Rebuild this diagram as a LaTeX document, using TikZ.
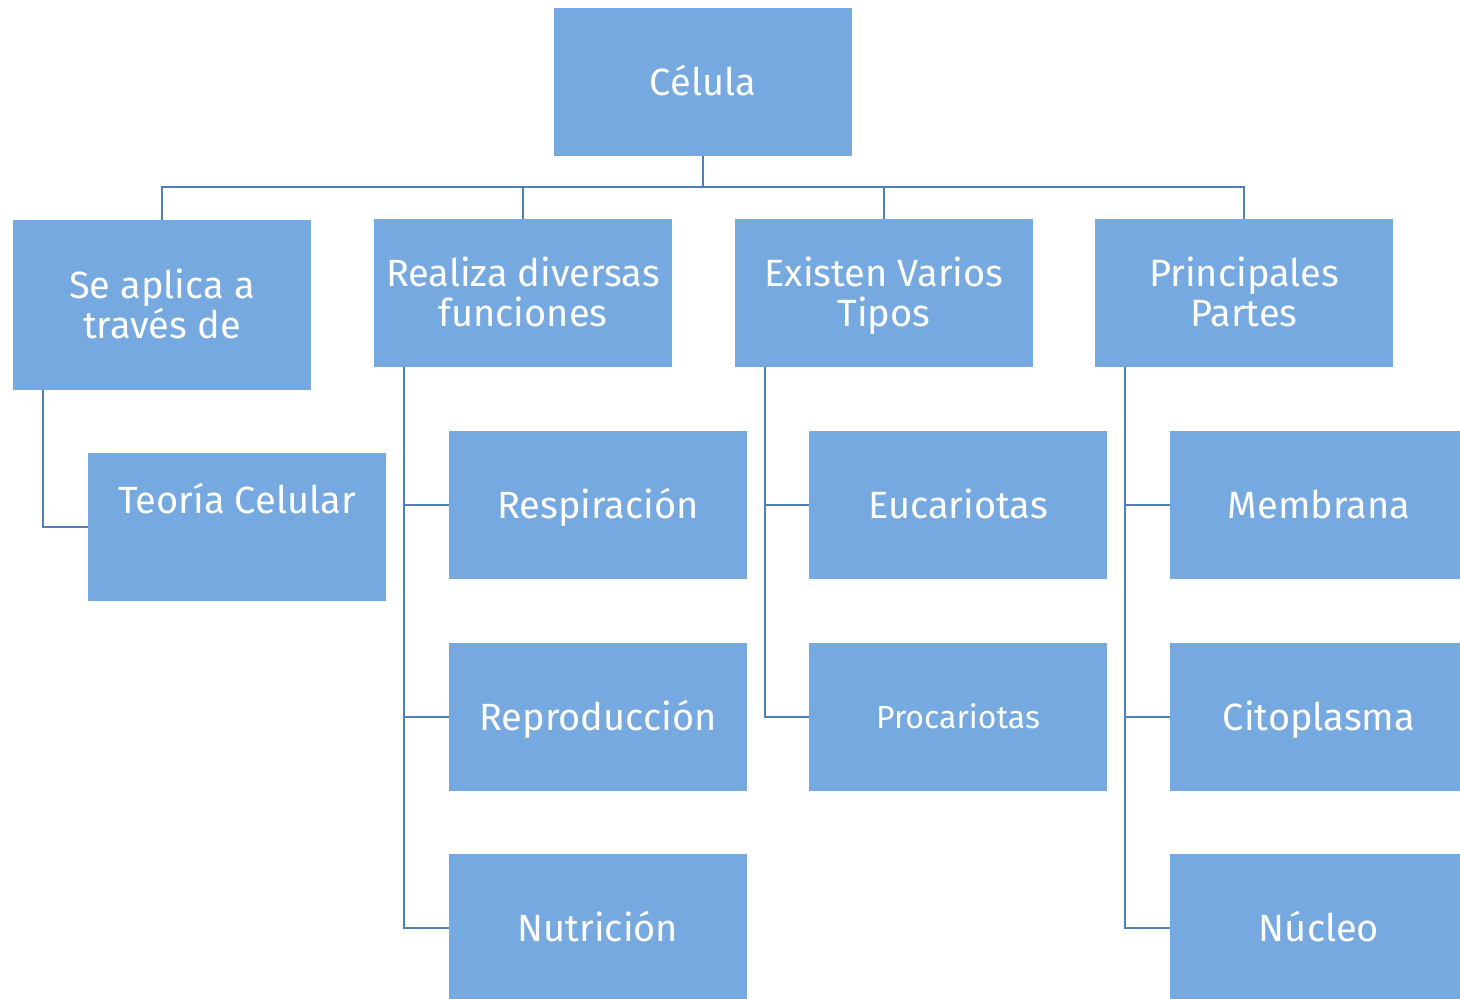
\documentclass[tikz,border=0pt]{standalone}
\usepackage{fontspec}
\setmainfont{Fira Sans}
\usetikzlibrary{calc}
\definecolor{boxfill}{HTML}{76A9DF}
\definecolor{linec}{HTML}{4F7FB5}
\newcommand{\lb}[1]{\smash{#1}\rule[-1pt]{0pt}{15pt}}
\begin{document}
\begin{tikzpicture}[x=0.5pt,y=-0.5pt,
  cbox/.style={rectangle, fill=boxfill, text=white, minimum width=149pt, minimum height=74pt, inner sep=0pt, align=center, font=\fontsize{19}{20}\selectfont},
  conn/.style={draw=linec, line width=1pt}]
\useasboundingbox (0,0) rectangle (1460,998);
\node[cbox] (celula) at (703,82) {\lb{Célula}};
\node[cbox, minimum height=85pt] (aplica) at (162,305) {\lb{Se aplica a}\\\lb{través de}};
\node[cbox] (realiza) at (523,293) {\lb{Realiza diversas}\\\lb{funciones}};
\node[cbox] (existen) at (884,293) {\lb{Existen Varios}\\\lb{Tipos}};
\node[cbox] (partes) at (1244,293) {\lb{Principales}\\\lb{Partes}};
\node[cbox] (teoria) at (237,527) {};
\node[text=white, font=\fontsize{19}{20}\selectfont] (teoriat) at (237,500) {\lb{Teoría Celular}};
\node[cbox] (resp) at (598,505) {\lb{Respiración}};
\node[cbox] (repro) at (598,717) {\lb{Reproducción}};
\node[cbox] (nutri) at (598,928) {\lb{Nutrición}};
\node[cbox] (euca) at (958,505) {\lb{Eucariotas}};
\node[cbox, font=\fontsize{16}{18}\selectfont] (proca) at (958,717) {\smash{Procariotas}\rule[-1pt]{0pt}{13pt}};
\node[cbox] (memb) at (1319,505) {\lb{Membrana}};
\node[cbox] (cito) at (1319,717) {\lb{Citoplasma}};
\node[cbox] (nucleo) at (1319,928) {\lb{Núcleo}};
% top tree
\coordinate (bus) at (703,187);
\draw[conn] (celula.south) -- (bus);
\draw[conn] (aplica.north) |- (bus) -| (partes.north);
\draw[conn] (realiza.north) -- (realiza.north |- bus);
\draw[conn] (existen.north) -- (existen.north |- bus);
% branches
\coordinate (sa) at ($(aplica.south west)+(30,0)$);
\coordinate (sr) at ($(realiza.south west)+(30,0)$);
\coordinate (se) at ($(existen.south west)+(30,0)$);
\coordinate (sp) at ($(partes.south west)+(30,0)$);
\draw[conn] (sa) |- (teoria.west);
\draw[conn] (sr) |- (resp.west);
\draw[conn] (sr) |- (repro.west);
\draw[conn] (sr) |- (nutri.west);
\draw[conn] (se) |- (euca.west);
\draw[conn] (se) |- (proca.west);
\draw[conn] (sp) |- (memb.west);
\draw[conn] (sp) |- (cito.west);
\draw[conn] (sp) |- (nucleo.west);
\end{tikzpicture}
\end{document}
